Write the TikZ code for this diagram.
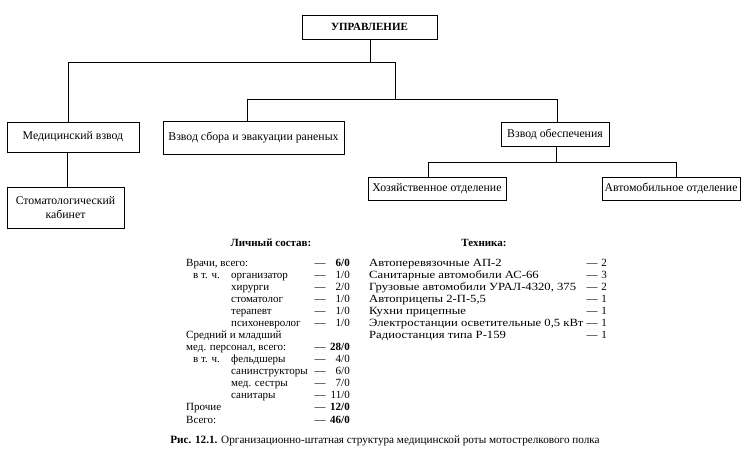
\documentclass[tikz,border=0pt]{standalone}
\usepackage{fontspec}
\setmainfont{Liberation Serif}
\newfontfamily\widefont[FakeStretch=1.15]{Liberation Serif}
\begin{document}
\begin{tikzpicture}[x=1pt,y=-1pt,
  box/.style={draw,line width=0.6pt,rectangle,inner sep=0pt,align=center,font=\fontsize{11.8}{14}\selectfont},
  conn/.style={line width=0.6pt},
  lst/.style={anchor=base west,inner sep=0pt,font=\fontsize{11}{13}\selectfont},
  dsh/.style={anchor=base,inner sep=0pt,font=\fontsize{11}{13}\selectfont},
  val/.style={anchor=base east,inner sep=0pt,font=\fontsize{11}{13}\selectfont},
  rlst/.style={anchor=base west,inner sep=0pt,font=\widefont\fontsize{11}{13}\selectfont},
  ttl/.style={anchor=base,inner sep=0pt,font=\fontsize{11}{13}\selectfont\bfseries}]
\useasboundingbox (0,0) rectangle (749,470);
% boxes
\node[box,minimum width=135pt,minimum height=24pt,font=\fontsize{11}{13}\selectfont\bfseries] (upr) at (369.5,27) {УПРАВЛЕНИЕ};
\node[box,minimum width=132pt,minimum height=30pt] (med) at (73,137) {Медицинский взвод};
\node[box,minimum width=117pt,minimum height=41pt] (stom) at (65.5,207.5) {Стоматологический\\кабинет};
\node[box,minimum width=181pt,minimum height=33pt] (sbor) at (253.5,137.5) {Взвод сбора и эвакуации раненых};
\node[box,minimum width=108pt,minimum height=24pt] (obesp) at (555,134) {Взвод обеспечения};
\node[box,minimum width=138pt,minimum height=23pt] (khoz) at (437,188.5) {Хозяйственное отделение};
\node[box,minimum width=138pt,minimum height=23pt] (avto) at (671,188.5) {Автомобильное отделение};
% junctions
\coordinate (j0) at (370,62);
\coordinate (j1) at (68,62);
\coordinate (j2) at (395,62);
\coordinate (j3) at (395,99);
\coordinate (j4) at (247,99);
\coordinate (j5) at (557,99);
\coordinate (j6) at (556,162);
\coordinate (j7) at (428,162);
\coordinate (j8) at (676,162);
\coordinate (j9) at (67,152);
% connectors
\draw[conn] (upr.south -| j0) -- (j0);
\draw[conn] (j1 |- med.north) -- (j1) -- (j2) -- (j3);
\draw[conn] (j4 |- sbor.north) -- (j4) -- (j5) -- (j5 |- obesp.north);
\draw[conn] (j9) -- (j9 |- stom.north);
\draw[conn] (obesp.south -| j6) -- (j6);
\draw[conn] (j7 |- khoz.north) -- (j7) -- (j8) -- (j8 |- avto.north);
% personnel list
\node[ttl] (t1) at (271,247) {Личный состав:};
\foreach \n/\y/\xx/\txt/\v/\b in {
 a/266.5/186/{Врачи, всего:}/6/1,
 b/278.5/231/{организатор}/1/0,
 c/290.5/231/{хирурги}/2/0,
 d/302.5/231/{стоматолог}/1/0,
 e/314.5/231/{терапевт}/1/0,
 f/326.5/231/{психоневролог}/1/0,
 h/350.5/186/{мед. персонал, всего:}/28/1,
 i/362.5/231/{фельдшеры}/4/0,
 j/374.5/231/{санинструкторы}/6/0,
 k/386.5/231/{мед. сестры}/7/0,
 l/398.5/231/{санитары}/11/0,
 m/410.5/186/{Прочие}/12/1,
 n/423.5/186/{Всего:}/46/1}{
  \node[lst] (L\n) at (\xx,\y) {\txt};
  \node[dsh] (D\n) at (320,\y) {—};
  \ifnum\b=1
    \node[val,font=\fontsize{11}{13}\selectfont\bfseries] (V\n) at (350,\y) {\v/0};
  \else
    \node[val] (V\n) at (350,\y) {\v/0};
  \fi
}
\node[lst] (Lg) at (186,338.5) {Средний и младший};
\node[lst] (Lb2) at (193,278.5) {в т. ч.};
\node[lst] (Li2) at (193,362.5) {в т. ч.};
% equipment list
\node[ttl] (t2) at (484,247) {Техника:};
\foreach \n/\y/\txt/\v in {
 a/266.5/{Автоперевязочные АП-2}/2,
 b/278.5/{Санитарные автомобили АС-66}/3,
 c/290.5/{Грузовые автомобили УРАЛ-4320, 375}/2,
 d/302.5/{Автоприцепы 2-П-5,5}/1,
 e/314.5/{Кухни прицепные}/1,
 f/326.5/{Электростанции осветительные 0,5 кВт}/1,
 g/338.5/{Радиостанция типа Р-159}/1}{
  \node[rlst] (R\n) at (369,\y) {\txt};
  \node[dsh] (RD\n) at (592,\y) {—};
  \node[val] (RV\n) at (607,\y) {\v};
}
% caption
\node[anchor=base,inner sep=0pt,font=\fontsize{11.2}{13}\selectfont] (cap) at (385,443) {\textbf{Рис. 12.1.} Организационно-штатная структура медицинской роты мотострелкового полка};
\end{tikzpicture}
\end{document}
